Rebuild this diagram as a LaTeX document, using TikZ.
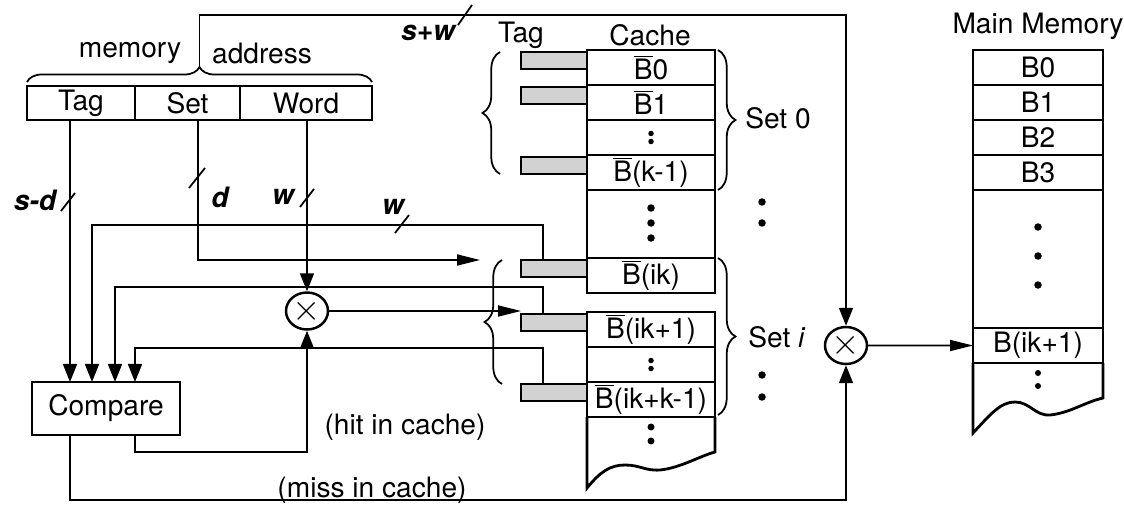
\documentclass[tikz,border=0pt]{standalone}
\usepackage{fontspec}
\setmainfont{TeX Gyre Heros}
\usetikzlibrary{arrows.meta, positioning, calc, shapes.geometric, decorations.pathreplacing}

\newcommand{\ovB}{$\overline{\mbox{B}}$}

\begin{document}
\begin{tikzpicture}[
    x=0.2mm, y=-0.2mm,
    every node/.style={font=\fontsize{16}{19}\selectfont},
    field/.style={draw=black, line width=1.6pt, minimum height=6.8mm, inner sep=0pt, outer sep=0pt},
    cell/.style={draw=black, line width=1.6pt, minimum width=25.6mm, minimum height=7mm, inner sep=0pt, outer sep=0pt},
    memcell/.style={cell, minimum width=26mm},
    tagcell/.style={draw=black, line width=1.6pt, fill=gray!35, minimum width=13.2mm, minimum height=3.4mm, inner sep=0pt, outer sep=0pt},
    mult/.style={ellipse, draw=black, line width=1.4pt, minimum width=8.4mm, minimum height=7.4mm, inner sep=0pt},
    conn/.style={line width=1pt},
    varrow/.style={conn, -{Triangle[length=3.6mm, width=2.8mm]}},
    harrow/.style={conn, -{Triangle[length=4.6mm, width=2.2mm]}},
    bus/.style={line width=1pt},
    buslabel/.style={font=\fontsize{16}{19}\selectfont\bfseries\itshape, inner sep=1pt},
    setbrace/.style={decorate, decoration={brace, amplitude=3.5mm}, line width=1pt},
    addrbrace/.style={decorate, decoration={brace, amplitude=3mm}, line width=1pt},
    blob/.style={fill=black}
]
\useasboundingbox (0,0) rectangle (1124,509);

% Memory address fields
\node[field, minimum width=21.6mm] (tagf) at (81,103) {Tag};
\node[field, minimum width=21mm, right=0pt of tagf] (setf) {Set};
\node[field, minimum width=26.4mm, right=0pt of setf] (wordf) {Word};
\draw[addrbrace] ($(tagf.north west)+(0,-4)$) -- ($(wordf.north east)+(0,-4)$);
\coordinate (addr) at ($(tagf.north west)!0.5!(wordf.north east)+(0,-19)$);
\node (memlbl) at (130,53) {memory};
\node (addrlbl) at (262,53) {address};

% Cache blocks
\node (cachetitle) at (650,35) {Cache};
\node (tagtitle) at (521,35) {Tag};
\node[cell] (c1) at (651,67.5) {\ovB0};
\node[cell, below=0pt of c1] (c2) {\ovB1};
\node[cell, below=0pt of c2] (c3) {};
\node[cell, below=0pt of c3] (c4) {\ovB(k-1)};
\node[cell, below=0pt of c4, minimum height=13.6mm] (c5) {};
\node[cell, below=0pt of c5] (c6) {\ovB(ik)};
\node[cell, below=3.8mm of c6] (c7) {\ovB(ik+1)};
\node[cell, below=0pt of c7] (c8) {};
\node[cell, below=0pt of c8] (c9) {\ovB(ik+k-1)};
\draw[line width=1.6pt] (c9.south west) -- (587,488) .. controls (600,472) and (610,465) .. (625,465)
    .. controls (640,465) and (645,471) .. (660,470) .. controls (680,468) and (700,456) .. (715,452) -- (c9.south east);

% Tag entries
\node[tagcell, anchor=north east] (t1) at ($(c1.north west)+(0,2)$) {};
\node[tagcell, anchor=north east] (t2) at ($(c2.north west)+(0,2)$) {};
\node[tagcell, anchor=north east] (t3) at ($(c4.north west)+(0,2)$) {};
\node[tagcell, anchor=north east] (t4) at ($(c6.north west)+(0,2)$) {};
\node[tagcell, anchor=north east] (t5) at ($(c7.north west)+(0,2)$) {};
\node[tagcell, anchor=north east] (t6) at ($(c9.north west)+(0,2)$) {};

% Dots
\fill[blob] ($(c3.center)+(0,-4)$) circle[radius=0.55mm] ($(c3.center)+(0,4)$) circle[radius=0.55mm];
\fill[blob] ($(c8.center)+(0,-4)$) circle[radius=0.55mm] ($(c8.center)+(0,4)$) circle[radius=0.55mm];
\foreach \dy in {-16,-1,14} \fill[blob] ($(c5.center)+(0,\dy)$) circle[radius=0.75mm];
\fill[blob] (651,427) circle[radius=0.7mm] (651,441) circle[radius=0.7mm];
\fill[blob] (762,202) circle[radius=0.75mm] (762,223) circle[radius=0.75mm];
\fill[blob] (762,375) circle[radius=0.75mm] (762,397) circle[radius=0.75mm];

% Sets
\draw[setbrace] ($(t3.south west)+(-21,0)$) -- ($(t1.north west)+(-21,0)$);
\draw[setbrace] ($(c1.north east)+(3,0)$) -- ($(c4.south east)+(3,0)$);
\draw[setbrace] ($(t6.north west)+(-19,0)$) -- ($(t4.north west)+(-19,0)$);
\draw[setbrace] ($(c6.north east)+(3,0)$) -- ($(c9.south east)+(3,-2)$);
\node (set0) at (778,118) {Set 0};
\node (seti) at (777,337) {Set \textit{i}};

% Main memory
\node[memcell] (m1) at (1038,67.5) {B0};
\node[memcell, below=0pt of m1] (m2) {B1};
\node[memcell, below=0pt of m2] (m3) {B2};
\node[memcell, below=0pt of m3] (m4) {B3};
\node[memcell, below=0pt of m4, minimum height=27.6mm] (m5) {};
\node[memcell, below=0pt of m5] (m6) {B(ik+1)};
\node[above=0.8mm of m1] (mmtitle) {Main Memory};
\draw[line width=1.6pt] (m6.south west) -- (973,433) .. controls (990,415) and (1000,402) .. (1015,402)
    .. controls (1030,402) and (1035,416) .. (1050,415) .. controls (1070,413) and (1085,402) .. (1103,398) -- (m6.south east);
\foreach \dy in {-32,-3,26} \fill[blob] ($(m5.center)+(0,\dy)$) circle[radius=0.75mm];
\fill[blob] (1038,373) circle[radius=0.6mm] (1038,386) circle[radius=0.6mm];

% Compare and multiplexers
\node[field, minimum width=29.6mm, minimum height=10.6mm] (cmp) at (106,408.5) {Compare};
\node[mult] (mulA) at (307,311) {\fontsize{22}{22}\selectfont$\times$};
\node[mult] (mulB) at (846,345.5) {\fontsize{22}{22}\selectfont$\times$};
\coordinate (in1) at ($(cmp.north west)+(38,0)$);
\coordinate (in2) at ($(cmp.north west)+(60,0)$);
\coordinate (in3) at ($(cmp.north west)+(83,0)$);
\coordinate (in4) at ($(cmp.north west)+(103,0)$);
\coordinate (setdrop) at (198,260);
\coordinate (setend) at (480,260);
\coordinate (topr) at (846,15);

% Connections
\draw[varrow] (tagf.south -| in1) -- (in1);
\draw[harrow] (setf.south -| setdrop) -- (setdrop) -- (setend);
\draw[varrow] (wordf.south -| mulA.north) -- (mulA.north);
\draw[varrow] ($(t4.north west)+(22,0)$) -- ++(0,-35) -| (in2);
\draw[varrow] ($(t5.north west)+(22,0)$) -- ++(0,-27) -| (in3);
\draw[varrow] ($(t6.north west)+(22,0)$) -- ++(0,-36) -| (in4);
\draw[harrow] (mulA.east) -- (mulA.east -| t5.west);
\draw[varrow] ($(cmp.south west)+(103,0)$) -- ++(0,17) -| (mulA.south);
\draw[varrow] (cmp.south -| in1) -- ++(0,65) -| (mulB.south);
\draw[varrow] (addr) |- (topr) -- (mulB.north);
\draw[harrow] (mulB.east) -- (m6.west);
\node (hit) at (405,427) {(hit in cache)};
\node (miss) at (372,490) {(miss in cache)};

% Bus widths
\draw[bus] (61,211) -- (75,193);
\node[buslabel] (sdlbl) at (35,200) {s-d};
\draw[bus] (189,188) -- (205,168);
\node[buslabel] (dlbl) at (220,197) {d};
\draw[bus] (300,207) -- (314,189);
\node[buslabel] (wlbl) at (283,197) {w};
\draw[bus] (395,233) -- (409,215);
\node[buslabel] (w2lbl) at (393,207) {w};
\draw[bus] (458,25) -- (472,5);
\node[buslabel] (swlbl) at (428,33) {s+w};

\end{tikzpicture}
\end{document}
